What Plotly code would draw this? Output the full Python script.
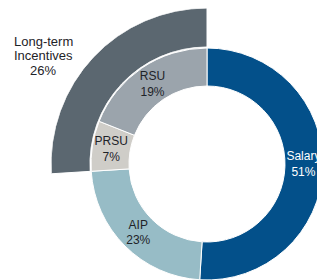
import math
import plotly.graph_objects as go

# ---- data ----
INNER_LABELS = ["Salary", "AIP", "PRSU", "RSU"]
INNER_VALUES = [51, 23, 7, 19]
OUTER_LABEL = "Long-term Incentives"
OUTER_LABEL_LINES = ["Long-term", "Incentives"]
OUTER_VALUE = 26

INNER_COLORS = ["#03508a", "#97bcc6", "#cfcdc8", "#9ba4ac"]
INNER_TEXT_COLORS = ["#ffffff", "#1e2328", "#1e2328", "#1e2328"]
OUTER_COLOR = "#5b6770"

W, H = 325, 280
OFF = 8                     # page body margin of the html page
CX, CY = 207 - OFF, 164 - OFF   # centre of the rings (figure px from top-left)
R_IN_OUT, R_IN_HOLE = 116, 78
R_OUT_OUT, R_OUT_IN = 156, 117

fig = go.Figure()

# inner ring (pie)
fig.add_trace(go.Pie(
    labels=INNER_LABELS, values=INNER_VALUES, sort=False,
    direction="clockwise", rotation=0,
    hole=R_IN_HOLE / R_IN_OUT,
    marker=dict(colors=INNER_COLORS, line=dict(color="white", width=1)),
    texttemplate="%{label}<br>%{percent:.0%}",
    textposition="inside", insidetextorientation="horizontal",
    textfont=dict(family="Liberation Sans, Arial", size=12, color=INNER_TEXT_COLORS),
    domain=dict(x=[(CX - R_IN_OUT) / W, (CX + R_IN_OUT) / W],
                y=[(H - CY - R_IN_OUT) / H, (H - CY + R_IN_OUT) / H]),
    showlegend=False, hoverinfo="label+percent",
))

# outer partial ring (barpolar), counter-clockwise from 12 o'clock
deg = OUTER_VALUE * 3.6
sec = [90, 184]
y0 = math.sin(math.radians(sec[1]))
fig.add_trace(go.Barpolar(
    r=[1], base=[0], theta=[deg / 2], width=[deg],
    marker=dict(color=OUTER_COLOR, line=dict(color="white", width=1)),
    subplot="polar", showlegend=False, name=OUTER_LABEL,
))

px_left = CX - R_OUT_OUT
px_right = CX
px_top = CY - R_OUT_OUT
px_bottom = CY - R_OUT_OUT * y0
fig.update_layout(
    polar=dict(
        domain=dict(x=[max(px_left, 0) / W, px_right / W],
                    y=[(H - px_bottom) / H, min((H - px_top) / H, 1)]),
        sector=sec,
        hole=R_OUT_IN / R_OUT_OUT,
        bgcolor="rgba(0,0,0,0)",
        radialaxis=dict(range=[0, 1], visible=False, showgrid=False),
        angularaxis=dict(rotation=90, direction="counterclockwise",
                         visible=False, showgrid=False),
    ),
)

# label for outer ring
lines = OUTER_LABEL_LINES + [f"{OUTER_VALUE}%"]
for i, t in enumerate(lines):
    fig.add_annotation(
        text=t, xref="paper", yref="paper",
        x=(43 - OFF) / W, y=1 - (41 - OFF + 14.5 * i) / H,
        xanchor="center", yanchor="middle", showarrow=False,
        font=dict(family="Liberation Sans, Arial", size=13, color="#1e2328"),
    )

fig.update_layout(
    width=W, height=H,
    margin=dict(l=0, r=0, t=0, b=0),
    paper_bgcolor="white", plot_bgcolor="white",
    uniformtext=dict(minsize=12, mode="show"),
)

fig.write_html("out.html")
